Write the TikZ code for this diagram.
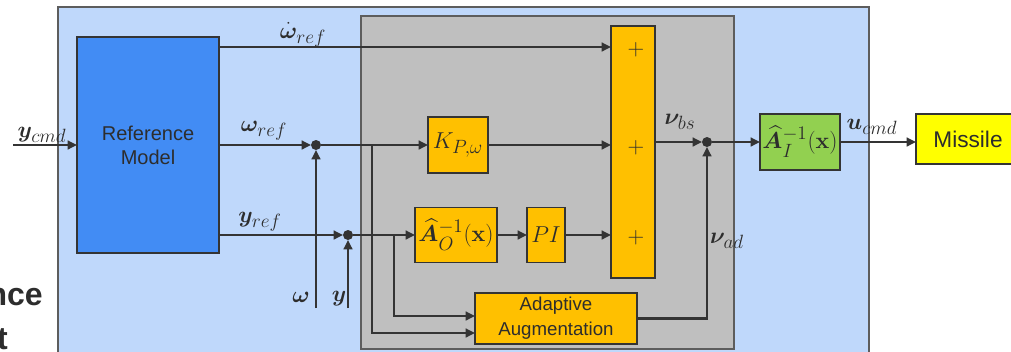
\documentclass[tikz,border=0pt]{standalone}
\usepackage[no-math]{fontspec}
\setmainfont{Liberation Sans}
\usepackage{amsmath,bm}
\DeclareMathSizes{16}{16}{13.5}{10}
\DeclareMathSizes{17}{17}{13.5}{10}
\usetikzlibrary{arrows.meta}
\definecolor{outerblue}{RGB}{191,216,251}
\definecolor{innergray}{RGB}{191,191,191}
\definecolor{refblue}{RGB}{66,140,244}
\definecolor{orangebox}{RGB}{255,192,0}
\definecolor{greenbox}{RGB}{146,208,80}
\definecolor{yellowbox}{RGB}{255,255,0}
\definecolor{linec}{RGB}{52,52,52}
\definecolor{txt}{RGB}{45,45,45}
\begin{document}
\begin{tikzpicture}[x=0.75pt,y=-0.75pt,
  box/.style={draw=linec, line width=1pt, inner sep=0pt, outer sep=0pt, text=txt, align=center},
  arr/.style={draw=linec, line width=1.7pt, -{Triangle[length=7pt,width=6.5pt]}},
  dot/.style={circle, fill=linec, inner sep=0pt, outer sep=0pt, minimum size=7.5pt},
  lab/.style={text=txt, inner sep=0pt, font=\fontsize{16}{19}\selectfont},
  plus/.style={text=txt, inner sep=0pt, font=\fontsize{18}{20}\selectfont}
]
\clip (0,0) rectangle (1011,351);
% frames
\filldraw[fill=outerblue, draw=linec!80, line width=1pt] (58,7) rectangle (869,362);
\filldraw[fill=innergray, draw=linec!80, line width=1pt] (361,16) rectangle (734,349);
% cut-off text at left
\node[anchor=base east, inner sep=0pt, text=txt, font=\fontsize{24}{28}\selectfont\bfseries] (tx1) at (43,305) {nce};
\node[anchor=base east, inner sep=0pt, text=txt, font=\fontsize{24}{28}\selectfont\bfseries] (tx2) at (8,349) {t};
% blocks
\node[box, fill=refblue, minimum width=106.5pt, minimum height=162pt, font=\fontsize{15}{18}\selectfont] (ref) at (148,145) {Reference\\Model};
\node[box, fill=orangebox, minimum width=45pt, minimum height=42pt, font=\fontsize{17}{20}\selectfont] (K) at (458,145) {$K_{P,\omega}$};
\node[box, fill=orangebox, minimum width=61.5pt, minimum height=41.25pt, font=\fontsize{17}{20}\selectfont] (A0) at (456,235) {$\widehat{\bm{A}}_{O}^{-1}(\mathbf{x})$};
\node[box, fill=orangebox, minimum width=28.5pt, minimum height=41.25pt, font=\fontsize{17}{20}\selectfont] (PI) at (546,235) {$PI$};
\node[box, fill=orangebox, minimum width=33pt, minimum height=189pt] (sum) at (633,152) {};
\node[box, fill=orangebox, minimum width=121.5pt, minimum height=38.25pt, font=\fontsize{14}{18.5}\selectfont] (adapt) at (556,318.5) {Adaptive\\Augmentation};
\node[box, fill=greenbox, minimum width=60pt, minimum height=42pt, font=\fontsize{17}{20}\selectfont] (green) at (800,142) {$\widehat{\bm{A}}_{I}^{-1}(\mathbf{x})$};
\node[box, fill=yellowbox, minimum width=78pt, minimum height=37.5pt, font=\fontsize{17}{20}\selectfont] (missile) at (968,139) {Missile};
% plus signs
\node[plus] (p1) at (636,50) {$+$};
\node[plus] (p2) at (636,148) {$+$};
\node[plus] (p3) at (636,238) {$+$};
% junctions and free ends
\node[dot] (j1) at (316,145) {};
\node[dot] (j2) at (348,235) {};
\node[dot] (j3) at (707,142) {};
\coordinate (cin) at (13,145);
\coordinate (wfb) at (316,308);
\coordinate (yfb) at (348,308);
\coordinate (b1) at (372,145);
\coordinate (b2) at (394,235);
\coordinate (r1) at (0,47);
\coordinate (a1) at (0,316);
\coordinate (a2) at (0,333);
% connectors
\draw[arr] (cin) -- (ref.west |- cin);
\draw[arr] (ref.east |- r1) -- (sum.west |- r1);
\draw[arr] (ref.east |- j1) -- (j1);
\draw[arr] (j1) -- (K);
\draw[arr] (wfb) -- (j1);
\draw[arr] (ref.east |- j2) -- (j2);
\draw[arr] (j2) -- (A0);
\draw[arr] (yfb) -- (j2);
\draw[arr] (A0) -- (PI);
\draw[arr] (PI) -- (sum.west |- PI);
\draw[arr] (K) -- (sum.west |- K);
\draw[arr] (b1) |- (adapt.west |- a2);
\draw[arr] (b2) |- (adapt.west |- a1);
\draw[arr] (sum.east |- j3) -- (j3);
\draw[arr] (adapt.east) -| (j3);
\draw[arr] (j3) -- (green.west |- j3);
\draw[arr] (green.east) -- (missile.west |- green.east);
% labels
\node[lab] (lwd) at (303,35) {$\dot{\bm{\omega}}_{ref}$};
\node[lab] (lw) at (264,131) {$\bm{\omega}_{ref}$};
\node[lab] (ly) at (260,222) {$\bm{y}_{ref}$};
\node[lab] (lyc) at (42,135) {$\bm{y}_{cmd}$};
\node[lab] (lwf) at (301,297) {$\bm{\omega}$};
\node[lab] (lyf) at (339,299) {$\bm{y}$};
\node[lab] (lvbs) at (680,122) {$\bm{\nu}_{bs}$};
\node[lab] (lvad) at (727,241) {$\bm{\nu}_{ad}$};
\node[lab] (luc) at (872,127) {$\bm{u}_{cmd}$};
\end{tikzpicture}
\end{document}
